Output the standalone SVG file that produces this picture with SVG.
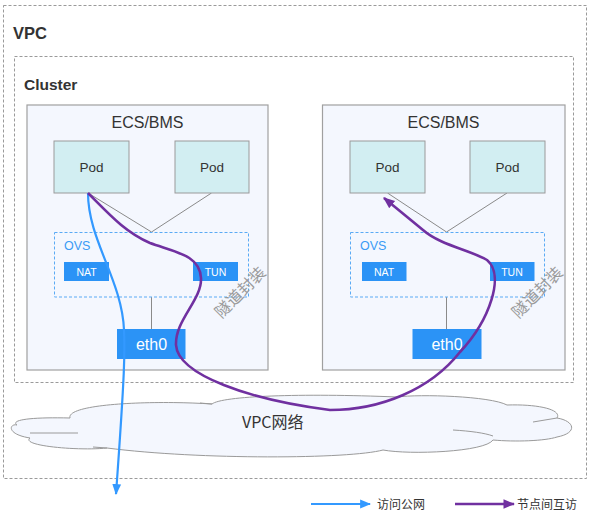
<svg xmlns="http://www.w3.org/2000/svg" width="592" height="520" viewBox="0 0 592 520">
<defs>
<style>
.dash{fill:none;stroke:#9a9a9a;stroke-width:1;stroke-dasharray:3 2}
.ecs{fill:#f4f7fe;stroke:#a0a0a0;stroke-width:1.2}
.pod{fill:#d2eef2;stroke:#9a9a9a;stroke-width:1}
.ovs{fill:none;stroke:#5aaaf5;stroke-width:1;stroke-dasharray:3 2}
.blk{fill:#2b93f6}
.t{font-family:"Liberation Sans",Arial,sans-serif}
.cjk{font-family:"Noto Sans CJK SC","Liberation Sans",sans-serif}
.wire{stroke:#8a8a8a;stroke-width:1;fill:none}
.blue{fill:none;stroke:#3399ff;stroke-width:2.2}
.purple{fill:none;stroke:#7030a0;stroke-width:2.6}
</style>
<marker id="ab" viewBox="0 0 10 10" refX="9" refY="5" markerWidth="5" markerHeight="5" orient="auto" markerUnits="strokeWidth">
<path d="M0,1 L10,5 L0,9 z" fill="#3399ff"/>
</marker>
<marker id="ap" viewBox="0 0 10 10" refX="9" refY="5" markerWidth="4.5" markerHeight="4.5" orient="auto" markerUnits="strokeWidth">
<path d="M0,1 L10,5 L0,9 z" fill="#7030a0"/>
</marker>
</defs>
<rect width="592" height="520" fill="#ffffff"/>

<g id="vpc">
<rect class="dash" x="3.5" y="5.5" width="583" height="473"/>
<text class="t" x="13" y="39" font-size="16.5" font-weight="bold" fill="#333">VPC</text>
</g>

<g id="cluster">
<rect class="dash" x="14.5" y="56.5" width="559" height="326"/>
<text class="t" x="24" y="90" font-size="15.5" font-weight="bold" fill="#333">Cluster</text>
</g>

<g id="ecs-left">
<rect class="ecs" x="27" y="105" width="241" height="265"/>
<text class="t" x="147.5" y="128" font-size="16" fill="#333" text-anchor="middle">ECS/BMS</text>
</g>
<g id="ecs-right">
<rect class="ecs" x="322.5" y="105" width="242.5" height="265"/>
<text class="t" x="443.5" y="128" font-size="16" fill="#333" text-anchor="middle">ECS/BMS</text>
</g>

<g id="connectors">
<polyline class="wire" points="88,193 151.5,232 211.5,193"/>
<line class="wire" x1="151.5" y1="297" x2="151.5" y2="329"/>
<polyline class="wire" points="387.5,193 446.5,232 507,193"/>
<line class="wire" x1="446.5" y1="297" x2="446.5" y2="329"/>
</g>

<g id="pod-l1">
<rect class="pod" x="54" y="141" width="75" height="52"/>
<text class="t" x="91.5" y="172" font-size="13.5" fill="#333" text-anchor="middle">Pod</text>
</g>
<g id="pod-l2">
<rect class="pod" x="175" y="141" width="74" height="52"/>
<text class="t" x="212" y="172" font-size="13.5" fill="#333" text-anchor="middle">Pod</text>
</g>
<g id="pod-r1">
<rect class="pod" x="350" y="141" width="75" height="52"/>
<text class="t" x="387.5" y="172" font-size="13.5" fill="#333" text-anchor="middle">Pod</text>
</g>
<g id="pod-r2">
<rect class="pod" x="470" y="141" width="75" height="52"/>
<text class="t" x="507.5" y="172" font-size="13.5" fill="#333" text-anchor="middle">Pod</text>
</g>

<g id="ovs-left">
<rect class="ovs" x="54.5" y="232.5" width="194" height="64.5"/>
<text class="t" x="64" y="250" font-size="12.5" fill="#3a9bf5">OVS</text>
</g>
<g id="ovs-right">
<rect class="ovs" x="350.5" y="232.5" width="194" height="64.5"/>
<text class="t" x="360" y="250" font-size="12.5" fill="#3a9bf5">OVS</text>
</g>

<g id="nat-left">
<rect class="blk" x="64" y="262" width="45" height="19"/>
<text class="t" x="86.5" y="275.5" font-size="10.5" fill="#fff" text-anchor="middle">NAT</text>
</g>
<g id="tun-left">
<rect class="blk" x="193" y="262" width="45" height="19"/>
<text class="t" x="215.5" y="275.5" font-size="10.5" fill="#fff" text-anchor="middle">TUN</text>
</g>
<g id="nat-right">
<rect class="blk" x="362" y="262" width="44.5" height="19"/>
<text class="t" x="384" y="275.5" font-size="10.5" fill="#fff" text-anchor="middle">NAT</text>
</g>
<g id="tun-right">
<rect class="blk" x="490" y="262" width="44.5" height="19"/>
<text class="t" x="512" y="275.5" font-size="10.5" fill="#fff" text-anchor="middle">TUN</text>
</g>

<g id="eth0-left">
<rect class="blk" x="117" y="329" width="68.5" height="30"/>
<text class="t" x="151.5" y="350" font-size="16" fill="#fff" text-anchor="middle">eth0</text>
</g>
<g id="eth0-right">
<rect class="blk" x="412.5" y="329" width="69" height="30"/>
<text class="t" x="447" y="350" font-size="16" fill="#fff" text-anchor="middle">eth0</text>
</g>

<g id="tunnel-label-left">
<text class="cjk" x="240" y="298" font-size="16" fill="#9a9a9a" text-anchor="middle" transform="rotate(-45 240 292)">隧道封装</text>
</g>
<g id="tunnel-label-right">
<text class="cjk" x="537" y="298" font-size="16" fill="#9a9a9a" text-anchor="middle" transform="rotate(-45 537 292)">隧道封装</text>
</g>

<g id="vpc-network">
<path d="M70 418 C66 404 150 400 212 404 C222 396 300 393 397 397 C420 394 490 396 507 405 C540 404 562 410 557 418 C575 421 578 433 557 437 C545 441 515 442 493 440 C485 452 410 455 383 450 C350 459 200 460 107 448 C80 451 20 446 30 438 C5 434 10 423 17 425 C10 420 30 417 70 418 Z" fill="#f4f7fe" stroke="#9a9a9a" stroke-width="1"/>
<path d="M30 433 L78 433 M93 447 L107 448 M453 430 C470 431 485 433 493 436 M533 422 L557 418 M200 403 L212 404" fill="none" stroke="#9a9a9a" stroke-width="1"/>
<text class="cjk" x="242" y="428" font-size="16" fill="#333">VPC网络</text>
</g>

<g id="flows">
<path class="blue" d="M88 193 C88 240 122 280 124 330 C125 350 125 370 116 494" marker-end="url(#ab)"/>
<path class="purple" d="M88 193 C110 215 125 232 150 243 C175 252 200 255 201 278 C202 300 175 320 176 345 C178 375 250 400 330 410 C380 410 430 390 460 352 C490 320 505 275 487 260 C470 250 440 245 423 230 L384 198" marker-end="url(#ap)"/>
</g>

<g id="legend">
<line class="blue" x1="311" y1="504" x2="370" y2="504" marker-end="url(#ab)"/>
<text class="cjk" x="377" y="508.5" font-size="12" fill="#333">访问公网</text>
<line class="purple" x1="455" y1="504" x2="514" y2="504" marker-end="url(#ap)"/>
<text class="cjk" x="517" y="508.5" font-size="12" fill="#333">节点间互访</text>
</g>
</svg>
